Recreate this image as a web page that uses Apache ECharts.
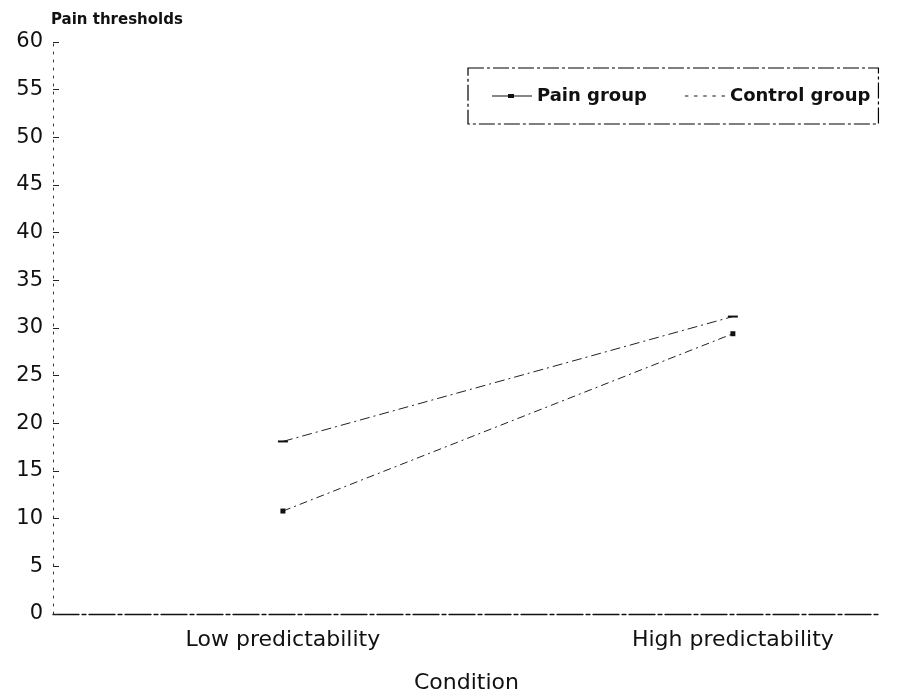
<!DOCTYPE html>
<html><head><meta charset="utf-8">
<script src="https://cdn.jsdelivr.net/npm/echarts@6/dist/echarts.min.js"></script>
<style>html,body{margin:0;padding:0;background:#fff}#c{width:913px;height:697px}</style>
</head><body><div id="c"></div>
<script>
const categories = ['Low predictability', 'High predictability'];
const painGroup = [10.8, 29.4];
const controlGroup = [18.1, 31.2];
const yTicks = [0, 5, 10, 15, 20, 25, 30, 35, 40, 45, 50, 55, 60];

const chart = echarts.init(document.getElementById('c'));
const font = 'DejaVu Sans, sans-serif';
chart.setOption({
  backgroundColor: '#fff',
  animation: false,
  grid: { left: 53, right: 33, top: 42, bottom: 83, outerBoundsMode: 'none', containLabel: false },
  legend: {
    left: 468, top: 68,
    padding: [19, 8, 19, 24],
    itemWidth: 40, itemHeight: 10, itemGap: 38,
    borderColor: '#000', borderWidth: 1.2, borderType: [16, 3, 3, 3],
    textStyle: { fontFamily: font, fontSize: 18, color: '#111', fontWeight: 'bold' },
    data: [
      { name: 'Pain group', icon: 'path://M0,4.5L16,4.5L16,3L22,3L22,4.5L40,4.5L40,5.5L22,5.5L22,7L16,7L16,5.5L0,5.5Z' },
      { name: 'Control group', icon: 'path://M0,4.5L3,4.5L3,5.5L0,5.5ZM8,4.5L11,4.5L11,5.5L8,5.5ZM16,4.5L19,4.5L19,5.5L16,5.5ZM24,4.5L27,4.5L27,5.5L24,5.5ZM32,4.5L35,4.5L35,5.5L32,5.5Z' }
    ]
  },
  xAxis: {
    type: 'value',
    min: -0.511, max: 1.327,
    name: 'Condition', nameLocation: 'middle', nameGap: 58,
    nameTextStyle: { fontFamily: font, fontSize: 22, color: '#111' },
    axisLine: { show: true, onZero: false, lineStyle: { color: '#111', width: 1.3, type: [26, 3, 4, 3] } },
    axisTick: { show: false },
    splitLine: { show: false },
    axisLabel: {
      customValues: [0, 1],
      formatter: v => categories[Math.round(v)] || '',
      fontFamily: font, fontSize: 22, color: '#111', margin: 15
    }
  },
  yAxis: {
    type: 'value', min: 0, max: 60, interval: 5,
    name: 'Pain thresholds', nameLocation: 'end', nameGap: 14,
    nameTextStyle: { fontFamily: font, fontSize: 15, fontWeight: 'bold', color: '#111', align: 'left', padding: [0, 0, 0, -2] },
    axisLine: { show: true, onZero: false, lineStyle: { color: '#333', width: 1, type: [2, 6] } },
    axisTick: { show: true, inside: true, length: 6, lineStyle: { color: '#222' } },
    splitLine: { show: false },
    axisLabel: {
      fontFamily: font, fontSize: 21, color: '#111', margin: 10,
      formatter: v => yTicks.includes(v) ? String(v) : ''
    }
  },
  series: [
    {
      name: 'Pain group', type: 'line',
      data: painGroup.map((v, i) => [i, v]),
      symbol: 'rect', symbolSize: 5,
      itemStyle: { color: '#111' },
      lineStyle: { color: '#222', width: 1, type: [8, 4, 2, 4] }
    },
    {
      name: 'Control group', type: 'line',
      data: controlGroup.map((v, i) => [i, v]),
      symbol: 'rect', symbolSize: [10, 2],
      itemStyle: { color: '#111' },
      lineStyle: { color: '#222', width: 1, type: [10, 4, 2, 4] }
    }
  ]
});
</script></body></html>
